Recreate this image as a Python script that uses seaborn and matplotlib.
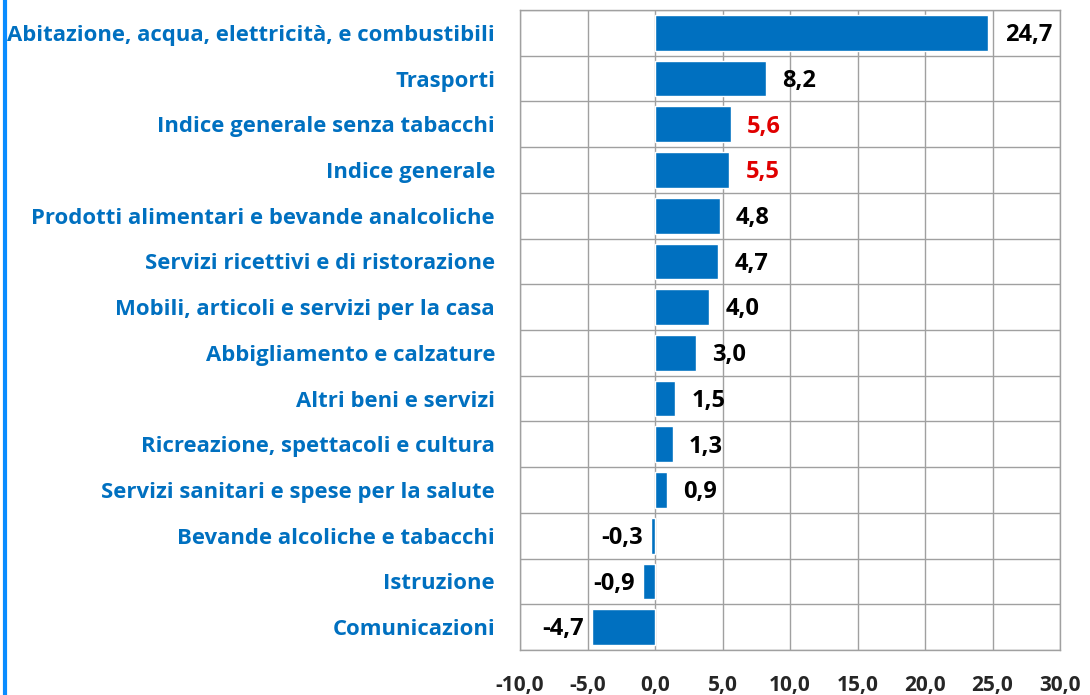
import matplotlib
matplotlib.use("Agg")
import matplotlib.pyplot as plt
import matplotlib.lines as mlines
import seaborn as sns
import pandas as pd

# Dati (variazioni %)
categorie = [
    "Abitazione, acqua, elettricità, e combustibili",
    "Trasporti",
    "Indice generale senza tabacchi",
    "Indice generale",
    "Prodotti alimentari e bevande analcoliche",
    "Servizi ricettivi e di ristorazione",
    "Mobili, articoli e servizi per la casa",
    "Abbigliamento e calzature",
    "Altri beni e servizi",
    "Ricreazione, spettacoli e cultura",
    "Servizi sanitari e spese per la salute",
    "Bevande alcoliche e tabacchi",
    "Istruzione",
    "Comunicazioni",
]
valori = [24.7, 8.2, 5.6, 5.5, 4.8, 4.7, 4.0, 3.0, 1.5, 1.3, 0.9, -0.3, -0.9, -4.7]
evidenziati = ["Indice generale senza tabacchi", "Indice generale"]
x_ticks = [-10, -5, 0, 5, 10, 15, 20, 25, 30]

BLU = "#0070C0"
ROSSO = "#E00000"

sns.set_style("white")
plt.rcParams["font.family"] = ["Open Sans", "DejaVu Sans"]

df = pd.DataFrame({"categoria": categorie, "valore": valori})

fig = plt.figure(figsize=(10.9, 6.95), dpi=100)
ax = fig.add_axes([520 / 1090, 45 / 695, 540 / 1090, 640 / 695])

sns.barplot(data=df, x="valore", y="categoria", orient="h", color=BLU,
            saturation=1, width=0.78, ax=ax)

ax.set_xlim(-10, 30)
ax.set_ylim(len(categorie) - 0.5, -0.5)
ax.set_xticks(x_ticks)
ax.set_xticklabels([f"{t:.1f}".replace(".", ",") for t in x_ticks],
                   fontsize=15, fontweight="bold")
ax.set_yticks(range(len(categorie)))
ax.set_yticklabels(categorie, fontsize=15.9, fontweight="bold", color=BLU)
ax.set_xlabel("")
ax.set_ylabel("")

# griglia stile Excel
ax.set_yticks([i + 0.5 for i in range(-1, len(categorie))], minor=True)
ax.grid(axis="x", color="#A0A0A0", linewidth=1)
ax.grid(axis="y", which="minor", color="#A0A0A0", linewidth=1)
ax.set_axisbelow(True)
for s in ax.spines.values():
    s.set_color("#A0A0A0")
    s.set_linewidth(1)
ax.tick_params(axis="x", which="major", direction="out", length=6, color="#A0A0A0", pad=12)
ax.tick_params(axis="y", which="both", length=0, pad=18)

for i, (cat, v) in enumerate(zip(categorie, valori)):
    col = ROSSO if cat in evidenziati else "black"
    testo = f"{v:.1f}".replace(".", ",")
    if v >= 0:
        ax.text(v + 1.2, i + 0.05, testo, ha="left", va="center",
                fontsize=17, fontweight="bold", color=col)
    else:
        ax.text(v - 0.6, i + 0.05, testo, ha="right", va="center",
                fontsize=17, fontweight="bold", color=col)

# bordo blu a sinistra
fig.add_artist(mlines.Line2D([5 / 1090, 5 / 1090], [0, 1], color="#0A8CFF",
                             linewidth=3, transform=fig.transFigure))

fig.savefig("out.png", dpi=100, facecolor="white")
